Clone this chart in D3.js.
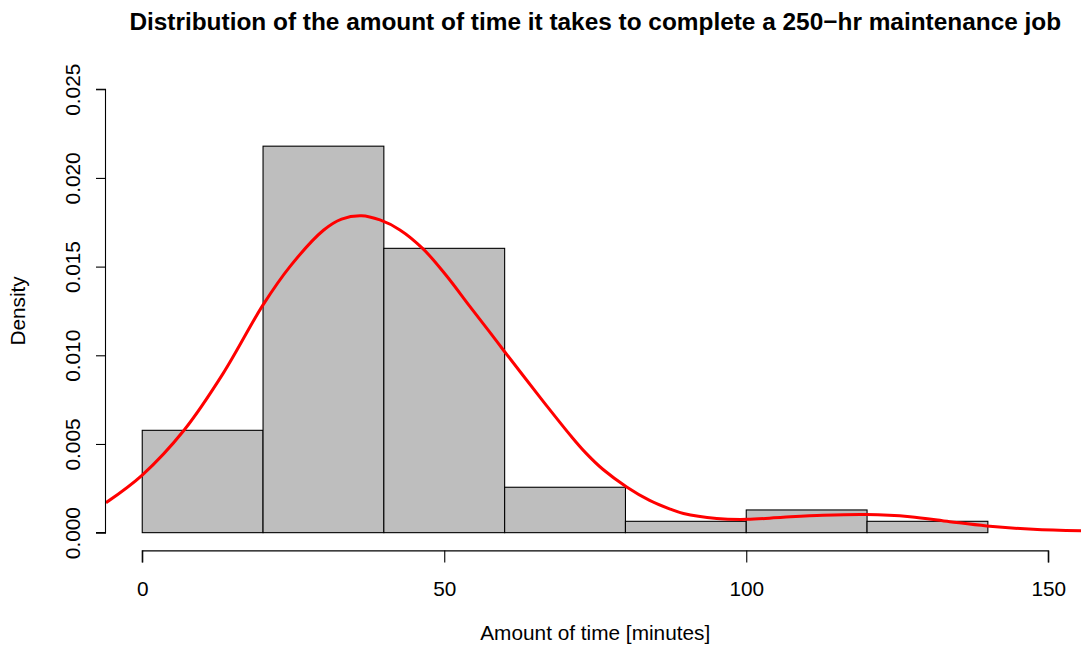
<!DOCTYPE html>
<html>
<head>
<meta charset="utf-8">
<script src="https://cdn.jsdelivr.net/npm/d3@7"></script>
<style>
  html, body { margin: 0; padding: 0; background: #fff; }
  svg text { font-family: "Liberation Sans", Arial, Helvetica, sans-serif; fill: #000; }
</style>
</head>
<body>
<svg id="chart" width="1081" height="652"></svg>
<script>
// ---- data ----
const binStarts = [0, 20, 40, 60, 80, 100, 120];
const binEnds   = [20, 40, 60, 80, 100, 120, 140];
const binDensity = [0.00577, 0.02179, 0.01603, 0.00256, 0.00064, 0.00128, 0.00064];

const curveX = [-6.0, 0, 6.95, 13.4, 20.0, 24.45, 30.0, 33.0, 36.3, 39.35, 42.66, 46.5, 50.4, 54.2, 57.5, 60.0, 63.05, 66.9, 71.05, 73.5, 76.3, 80.2, 84.0, 87.4, 89.6, 95.1, 100.1, 106.1, 112.7, 119.9, 127.1, 133.7, 139.8, 147.5, 156];
const curveY = [0.00169, 0.00325, 0.00579, 0.00898, 0.01284, 0.015, 0.01705, 0.01768, 0.01787, 0.01763, 0.01707, 0.016, 0.01447, 0.01277, 0.01132, 0.0102, 0.00886, 0.00718, 0.00542, 0.00447, 0.00356, 0.00258, 0.00182, 0.00133, 0.00108, 0.0008, 0.00075, 0.00087, 0.00098, 0.00102, 0.0009, 0.00062, 0.00038, 0.00019, 0.0001];

const xTicks = [0, 50, 100, 150];
const yTicks = [0, 0.005, 0.010, 0.015, 0.020, 0.025];

const titleText = "Distribution of the amount of time it takes to complete a 250\u2212hr maintenance job";
const xLabel = "Amount of time [minutes]";
const yLabel = "Density";

// ---- layout ----
const svg = d3.select("#chart");
const plotL = 106, plotR = 1084.5, plotT = 71.5, plotB = 550.4;
const axisFont = 20.8;

const x = d3.scaleLinear().domain([-6, 156]).range([plotL, plotR]);
const y = d3.scaleLinear().domain([-0.001, 0.026]).range([plotB, plotT]);

svg.append("defs").append("clipPath").attr("id", "plotclip")
  .append("rect").attr("x", plotL).attr("y", plotT)
  .attr("width", plotR - plotL).attr("height", plotB - plotT);

// bars
const bins = binStarts.map((s, i) => ({ x0: s, x1: binEnds[i], d: binDensity[i] }));
svg.append("g").selectAll("rect").data(bins).join("rect")
  .attr("x", d => x(d.x0))
  .attr("y", d => y(d.d))
  .attr("width", d => x(d.x1) - x(d.x0))
  .attr("height", d => y(0) - y(d.d))
  .attr("fill", "#bebebe")
  .attr("stroke", "#000")
  .attr("stroke-width", 1.1);

// density curve
const pts = curveX.map((v, i) => [v, curveY[i]]);
const line = d3.line().x(d => x(d[0])).y(d => y(d[1])).curve(d3.curveCatmullRom.alpha(0.5));
svg.append("path").datum(pts)
  .attr("clip-path", "url(#plotclip)")
  .attr("d", line)
  .attr("fill", "none")
  .attr("stroke", "#ff0000")
  .attr("stroke-width", 3);

// x axis
const xAxis = d3.axisBottom(x).tickValues(xTicks).tickSize(12).tickPadding(0).tickFormat(d3.format("d"));
const gx = svg.append("g").attr("transform", `translate(0,${plotB})`).call(xAxis);
gx.select(".domain").attr("d", `M${x(0)},12V0.5H${x(150)}V12`).attr("stroke", "#000").attr("stroke-width", 1.1);
gx.selectAll(".tick line").attr("stroke", "#000").attr("stroke-width", 1.1);
gx.selectAll(".tick text").attr("font-size", axisFont).attr("y", 46).attr("dy", null)
  .style("font-family", "'Liberation Sans', Arial, sans-serif");

// y axis
const yAxis = d3.axisLeft(y).tickValues(yTicks).tickSize(10).tickFormat(d3.format(".3f"));
const gy = svg.append("g").attr("transform", `translate(${plotL},0)`).call(yAxis);
gy.select(".domain").attr("d", `M-10,${y(0)}H-0.5V${y(0.025)}H-10`).attr("stroke", "#000").attr("stroke-width", 1.1);
gy.selectAll(".tick line").attr("stroke", "#000").attr("stroke-width", 1.1);
gy.selectAll(".tick text")
  .attr("font-size", axisFont)
  .attr("x", null).attr("dy", null)
  .attr("text-anchor", "middle")
  .attr("transform", "translate(-26,0) rotate(-90)")
  .style("font-family", "'Liberation Sans', Arial, sans-serif");

// title
svg.append("text")
  .attr("x", (plotL + plotR) / 2).attr("y", 30)
  .attr("text-anchor", "middle")
  .attr("font-size", 24.4).attr("font-weight", "bold")
  .text(titleText);

// x label
svg.append("text")
  .attr("x", (plotL + plotR) / 2).attr("y", 640)
  .attr("text-anchor", "middle")
  .attr("font-size", axisFont)
  .text(xLabel);

// y label
svg.append("text")
  .attr("transform", `translate(25,${(plotT + plotB) / 2}) rotate(-90)`)
  .attr("text-anchor", "middle")
  .attr("font-size", axisFont)
  .text(yLabel);
</script>
</body>
</html>
